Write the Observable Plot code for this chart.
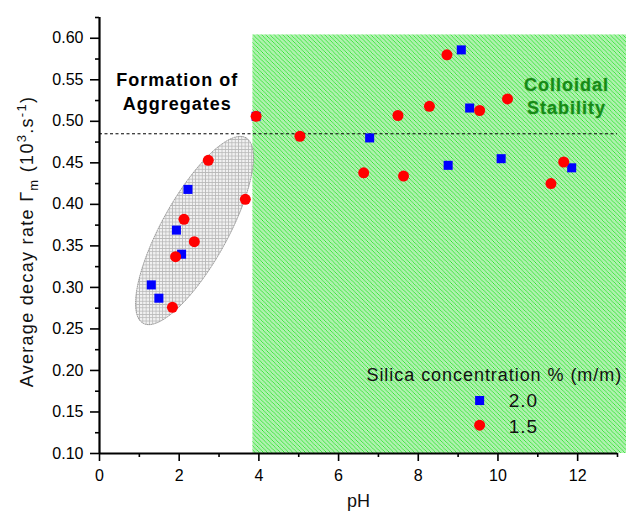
<!DOCTYPE html>
<html>
<head>
<meta charset="utf-8">
<script src="https://cdn.jsdelivr.net/npm/d3@7"></script>
<script src="https://cdn.jsdelivr.net/npm/@observablehq/plot@0.6"></script>
<style>
  html, body { margin: 0; padding: 0; background: #fff; }
  #chart { width: 626px; height: 517px; overflow: hidden; }
</style>
</head>
<body>
<div id="chart"></div>
<script>
// ---- data ----
const blueX = [1.30, 1.49, 1.93, 2.06, 2.22, 3.93, 6.78, 8.75, 9.08, 9.29, 10.08, 11.85];
const blueY = [0.303, 0.287, 0.369, 0.340, 0.418, 0.506, 0.480, 0.447, 0.586, 0.516, 0.455, 0.444];
const redX = [1.83, 1.91, 2.12, 2.38, 2.73, 3.66, 3.93, 5.03, 6.63, 7.49, 7.63, 8.28, 8.72, 9.54, 10.24, 11.33, 11.65];
const redY = [0.276, 0.337, 0.382, 0.355, 0.453, 0.406, 0.506, 0.482, 0.438, 0.507, 0.434, 0.518, 0.580, 0.513, 0.527, 0.425, 0.451];
const seriesLabels = ["2.0", "1.5"];
const legendTitle = "Silica concentration % (m/m)";
const xMajor = [0, 2, 4, 6, 8, 10, 12];
const xMinor = [1, 3, 5, 7, 9, 11, 13];
const yMajor = [0.10, 0.15, 0.20, 0.25, 0.30, 0.35, 0.40, 0.45, 0.50, 0.55, 0.60];
const yMinor = [0.125, 0.175, 0.225, 0.275, 0.325, 0.375, 0.425, 0.475, 0.525, 0.575, 0.625];
const threshold = 0.485;       // dashed line
const stableFrom = 3.85;       // start of the colloidal-stability region (pH)
const stableTop = 0.604;

// ---- derived tables ----
const blue = blueX.map((x, i) => ({x, y: blueY[i]}));
const red = redX.map((x, i) => ({x, y: redY[i]}));

// aggregate-region ellipse (centre + conjugate semi-axes, in data units)
const ell = {cx: 2.384, cy: 0.3685, ux: 1.290, uy: 0.1117, vx: 0.725, vy: -0.0193};
const ellPts = d3.range(0, 2 * Math.PI, Math.PI / 60).map(t => ({
  x: ell.cx + Math.cos(t) * ell.ux + Math.sin(t) * ell.vx,
  y: ell.cy + Math.cos(t) * ell.uy + Math.sin(t) * ell.vy
}));

const font = "'Liberation Sans', Arial, Helvetica, sans-serif";
const annotTexts = ["Formation of", "Aggregates", "Colloidal", "Stability", ...seriesLabels];

const svg = Plot.plot({
  width: 626,
  height: 517,
  marginLeft: 99,
  marginRight: 9,
  marginTop: 17,
  marginBottom: 64,
  x: {domain: [0, 13]},
  y: {domain: [0.1, 0.625]},
  style: {fontFamily: font, fontSize: "16px", color: "#000", background: "#fff", overflow: "visible"},
  marks: [
    Plot.rect([{x1: stableFrom, x2: 13.3, y1: 0.1, y2: stableTop}],
      {x1: "x1", x2: "x2", y1: "y1", y2: "y2", fill: "url(#greenHatch)"}),
    Plot.line(ellPts, {x: "x", y: "y", curve: "linear-closed",
      fill: "url(#greyGrid)", stroke: "#8a8a8a", strokeWidth: 0.8, strokeDasharray: "1,1.2"}),
    Plot.ruleY([threshold], {x1: 0, x2: 13, stroke: "#000", strokeWidth: 1, strokeDasharray: "3,2.5"}),
    Plot.dot(blue, {x: "x", y: "y", symbol: "square", r: 5.1, fill: "#0000ff"}),
    Plot.dot(red, {x: "x", y: "y", symbol: "circle", r: 5.5, fill: "#ff0000"}),
    // annotations
    Plot.text(["Formation of"], {x: 1.95, y: 0.549, fontSize: 18, fontWeight: "bold", fill: "#000"}),
    Plot.text(["Aggregates"], {x: 1.95, y: 0.520, fontSize: 18, fontWeight: "bold", fill: "#000"}),
    Plot.text(["Colloidal"], {x: 11.72, y: 0.544, fontSize: 18, fontWeight: "bold", fill: "#168a16",
      stroke: "#39a839", strokeWidth: 1.2, strokeOpacity: 0.35}),
    Plot.text(["Stability"], {x: 11.72, y: 0.5152, fontSize: 18, fontWeight: "bold", fill: "#168a16",
      stroke: "#39a839", strokeWidth: 1.2, strokeOpacity: 0.35}),
    // legend
    Plot.text([legendTitle], {x: 6.70, y: 0.194, textAnchor: "start", fontSize: 18, fill: "#111"}),
    Plot.dot([seriesLabels[0]], {x: 9.54, y: 0.1638, symbol: "square", r: 5.1, fill: "#0000ff"}),
    Plot.dot([seriesLabels[1]], {x: 9.54, y: 0.1341, symbol: "circle", r: 5.5, fill: "#ff0000"}),
    Plot.text([seriesLabels[0]], {x: 10.27, y: 0.163, textAnchor: "start", fontSize: 19, fill: "#111"}),
    Plot.text([seriesLabels[1]], {x: 10.27, y: 0.1326, textAnchor: "start", fontSize: 19, fill: "#111"}),
    // axes
    Plot.axisX({ticks: xMajor, tickSize: 8, tickPadding: 8, fontSize: 16, strokeWidth: 1.6,
      tickFormat: d => String(d), label: null}),
    Plot.axisX({ticks: xMinor, tickSize: 4, strokeWidth: 1.6, tickFormat: () => "", label: null}),
    Plot.axisY({ticks: yMajor, tickSize: 9, tickPadding: 7, fontSize: 16, strokeWidth: 1.6,
      tickFormat: d3.format(".2f"), label: null}),
    Plot.axisY({ticks: yMinor, tickSize: 4, strokeWidth: 1.6, tickFormat: () => "", label: null}),
    Plot.ruleY([0.1], {x1: 0, x2: 13, stroke: "#000", strokeWidth: 2.2}),
    Plot.ruleX([0], {y1: 0.1, y2: 0.625, stroke: "#000", strokeWidth: 2.2}),
    Plot.text(["pH"], {frameAnchor: "bottom", dy: 53, fontSize: 18, fill: "#111"})
  ]
});

// patterns
const root = d3.select(svg);
const defs = root.insert("defs", ":first-child");
const P = 4.2, H = P / 2;
const g = defs.append("pattern").attr("id", "greenHatch")
  .attr("patternUnits", "userSpaceOnUse").attr("width", P).attr("height", P);
g.append("rect").attr("width", P).attr("height", P).attr("fill", "#ffffff");
g.append("path").attr("d", `M-1,-1 L${P+1},${P+1} M-1,${P-1} L1,${P+1} M${P-1},-1 L${P+1},1`)
  .attr("stroke", "#1ee01e").attr("stroke-width", 1.0);
g.append("path").attr("d", `M${H-1},-1 L${P+1},${H+1} M-1,${H-1} L${H+1},${P+1}`)
  .attr("stroke", "#8fea8f").attr("stroke-width", 0.9);
const gg = defs.append("pattern").attr("id", "greyGrid")
  .attr("patternUnits", "userSpaceOnUse").attr("width", 3.3).attr("height", 3.3);
gg.append("rect").attr("width", 3.3).attr("height", 3.3).attr("fill", "#f1f1f1");
gg.append("path").attr("d", "M0,0.4 H3.3 M0.4,0 V3.3")
  .attr("stroke", "#b8b8b8").attr("stroke-width", 0.8);

// letter spacing (the reference's text is set a little wide)
root.selectAll("text").each(function () {
  const t = this.textContent;
  if (t === legendTitle) this.setAttribute("letter-spacing", "0.95");
  else if (annotTexts.includes(t)) this.setAttribute("letter-spacing", "1");
});

// y-axis label with sub/superscripts
const yl = root.append("text")
  .attr("transform", "translate(33,241.5) rotate(-90)")
  .attr("text-anchor", "middle")
  .attr("font-family", font)
  .attr("font-size", 18)
  .attr("fill", "#111")
  .attr("letter-spacing", "1.3");
yl.append("tspan").text("Average decay rate \u0393");
yl.append("tspan").attr("font-size", 13).attr("dy", 5).text("m");
yl.append("tspan").attr("dy", -5).text(" (10");
yl.append("tspan").attr("font-size", 13).attr("dy", -7).text("3");
yl.append("tspan").attr("dy", 7).text(".s");
yl.append("tspan").attr("font-size", 13).attr("dy", -7).text("-1");
yl.append("tspan").attr("dy", 7).text(")");

document.getElementById("chart").appendChild(svg);
</script>
</body>
</html>
